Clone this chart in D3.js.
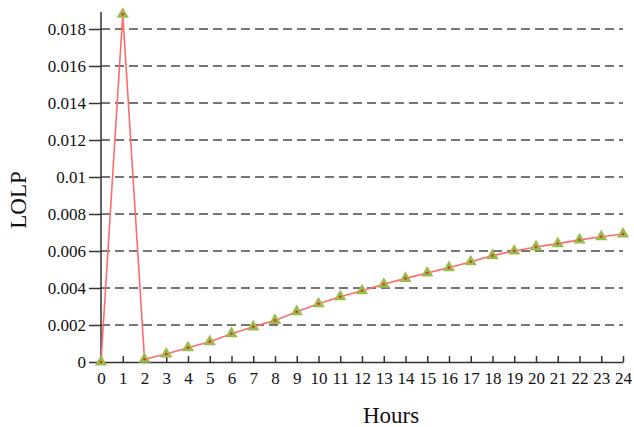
<!DOCTYPE html>
<html lang="en">
<head>
<meta charset="UTF-8">
<title>LOLP by hour</title>
<script src="https://d3js.org/d3.v7.min.js"></script>
<style>
    body { margin: 0; background: #fff; }
</style>
</head>
<body>
<div id="chart"></div>
<script>
// hourly loss-of-load probability
const hours = d3.range(0, 25);
const lolp = [0, 0.0188, 0.00015, 0.00043, 0.00077, 0.0011, 0.00153, 0.0019, 0.00225,
    0.00272, 0.00315, 0.00353, 0.00385, 0.0042, 0.00452, 0.00481, 0.0051, 0.00542,
    0.00575, 0.006, 0.00622, 0.0064, 0.0066, 0.00677, 0.00692];
const yTicks = [0, 0.002, 0.004, 0.006, 0.008, 0.01, 0.012, 0.014, 0.016, 0.018];

const serif = "'Liberation Serif', 'DejaVu Serif', serif";
const width = 634, height = 427;
const svg = d3.select("#chart").append("svg")
    .attr("width", width)
    .attr("height", height);

const x = d3.scaleLinear().domain([0, 24]).range([101, 623]);
const y = d3.scaleLinear().domain([0, 0.018]).range([362, 29]);

// dashed grid lines
svg.append("g")
    .selectAll("line")
    .data(yTicks.filter(d => d > 0))
    .enter().append("line")
    .attr("x1", x(0))
    .attr("x2", x(24))
    .attr("y1", d => y(d))
    .attr("y2", d => y(d))
    .attr("stroke", "#4a4a4a")
    .attr("stroke-width", 1.6)
    .attr("stroke-dasharray", "9,5");

// y axis
const yAxis = svg.append("g")
    .attr("transform", `translate(${x(0)},0)`)
    .call(d3.axisLeft(y).tickValues(yTicks).tickSize(12).tickPadding(3)
        .tickFormat(d => d === 0 ? "0" : String(+d.toFixed(3))));
yAxis.select(".domain").remove();
yAxis.append("line")
    .attr("y1", y(0)).attr("y2", 12)
    .attr("stroke", "#333").attr("stroke-width", 1.5);
yAxis.selectAll(".tick line").attr("stroke", "#333").attr("stroke-width", 1.5);
yAxis.selectAll("text")
    .attr("font-family", serif)
    .attr("font-size", 17)
    .attr("fill", "#111");

// x axis, ticks pointing inward
const xAxis = svg.append("g")
    .attr("transform", `translate(0,${y(0)})`)
    .call(d3.axisBottom(x).tickValues(hours).tickSize(-6).tickPadding(10).tickSizeOuter(0));
xAxis.select(".domain").attr("stroke", "#333").attr("stroke-width", 1.5);
xAxis.selectAll(".tick line").attr("stroke", "#333").attr("stroke-width", 1.5);
xAxis.selectAll("text")
    .attr("font-family", serif)
    .attr("font-size", 17)
    .attr("fill", "#111");

// line
const line = d3.line()
    .x((d, i) => x(hours[i]))
    .y(d => y(d));

svg.append("path")
    .datum(lolp)
    .attr("fill", "none")
    .attr("stroke", "#ff6b6b")
    .attr("stroke-width", 1.6)
    .attr("d", line);

// triangle markers with a red dot
const tri = d3.symbol().type(d3.symbolTriangle).size(65);
const marks = svg.append("g")
    .selectAll("g")
    .data(lolp)
    .enter().append("g")
    .attr("transform", (d, i) => `translate(${x(hours[i])},${y(d)})`);
marks.append("path")
    .attr("d", tri)
    .attr("fill", "#9bbb4f");
marks.append("circle")
    .attr("r", 1.3)
    .attr("fill", "#e0302a");

// axis titles
svg.append("text")
    .attr("x", 391)
    .attr("y", 423)
    .attr("text-anchor", "middle")
    .attr("font-family", serif)
    .attr("font-size", 23)
    .attr("fill", "#111")
    .text("Hours");

svg.append("text")
    .attr("transform", "translate(26,200) rotate(-90)")
    .attr("text-anchor", "middle")
    .attr("font-family", serif)
    .attr("font-size", 23)
    .attr("fill", "#111")
    .text("LOLP");
</script>
</body>
</html>
